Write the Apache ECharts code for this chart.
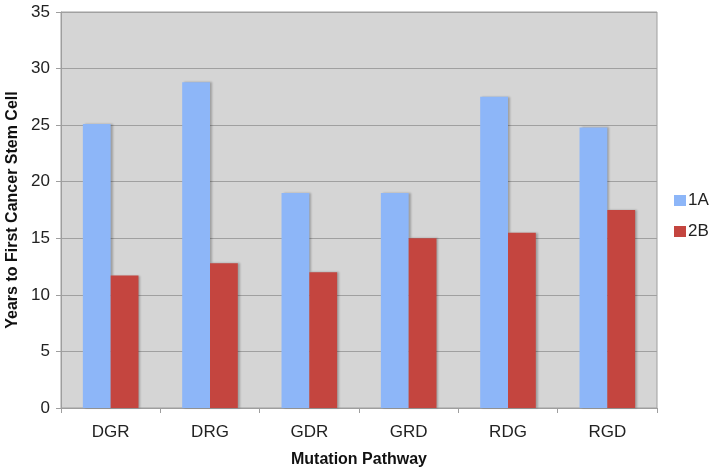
<!DOCTYPE html>
<html>
<head>
<meta charset="utf-8">
<script src="https://cdn.jsdelivr.net/npm/echarts@6/dist/echarts.min.js"></script>
<style>
html,body{margin:0;padding:0;background:#fff;}
#main{width:714px;height:476px;}
</style>
</head>
<body>
<div id="main"></div>
<script>
const categories = ['DGR', 'DRG', 'GDR', 'GRD', 'RDG', 'RGD'];
const series1A = [25.1, 28.8, 19.0, 19.0, 27.5, 24.8];
const series2B = [11.7, 12.8, 12.0, 15.0, 15.5, 17.5];
const seriesNames = ['1A', '2B'];
const yTicks = { min: 0, max: 35, interval: 5 };

const chart = echarts.init(document.getElementById('main'));
const font = 'Liberation Sans, Arial, sans-serif';
const barStyle = (c) => ({
  color: c,
  shadowColor: 'rgba(0,0,0,0.25)',
  shadowBlur: 2,
  shadowOffsetX: 2,
  shadowOffsetY: 0
});
chart.setOption({
  animation: false,
  backgroundColor: '#fff',
  grid: {
    left: 61, top: 12, width: 596, height: 396,
    containLabel: false, outerBoundsMode: 'none',
    show: true, backgroundColor: '#D5D5D5', borderColor: '#9E9E9E', borderWidth: 1
  },
  legend: {
    orient: 'vertical',
    left: 669, top: 187,
    itemWidth: 12, itemHeight: 11, itemGap: 14,
    icon: 'rect',
    textStyle: { fontFamily: font, fontSize: 17, color: '#222', padding: [0, 0, 0, -3] },
    data: seriesNames
  },
  xAxis: {
    type: 'category',
    data: categories,
    name: 'Mutation Pathway',
    nameLocation: 'middle',
    nameGap: 44,
    nameTextStyle: { fontFamily: font, fontSize: 16, fontWeight: 'bold', color: '#111' },
    axisLine: { lineStyle: { color: '#9E9E9E' } },
    axisTick: { show: true, alignWithLabel: false, length: 5, lineStyle: { color: '#9E9E9E' } },
    axisLabel: { fontFamily: font, fontSize: 17, color: '#222', margin: 16 }
  },
  yAxis: {
    type: 'value',
    min: yTicks.min, max: yTicks.max, interval: yTicks.interval,
    name: 'Years to First Cancer Stem Cell',
    nameLocation: 'middle',
    nameGap: 37,
    nameTextStyle: { fontFamily: font, fontSize: 16, fontWeight: 'bold', color: '#111' },
    axisLine: { show: true, lineStyle: { color: '#9E9E9E' } },
    axisTick: { show: true, length: 5, lineStyle: { color: '#9E9E9E' } },
    axisLabel: { fontFamily: font, fontSize: 17, color: '#222', margin: 11 },
    splitLine: { show: true, lineStyle: { color: '#A0A0A0', width: 1 } }
  },
  series: [
    { name: seriesNames[0], type: 'bar', data: series1A, barWidth: '28%', barGap: '0%', itemStyle: barStyle('#8DB6F8') },
    { name: seriesNames[1], type: 'bar', data: series2B, barWidth: '28%', barGap: '0%', itemStyle: barStyle('#C4453F') }
  ]
});
</script>
</body>
</html>
